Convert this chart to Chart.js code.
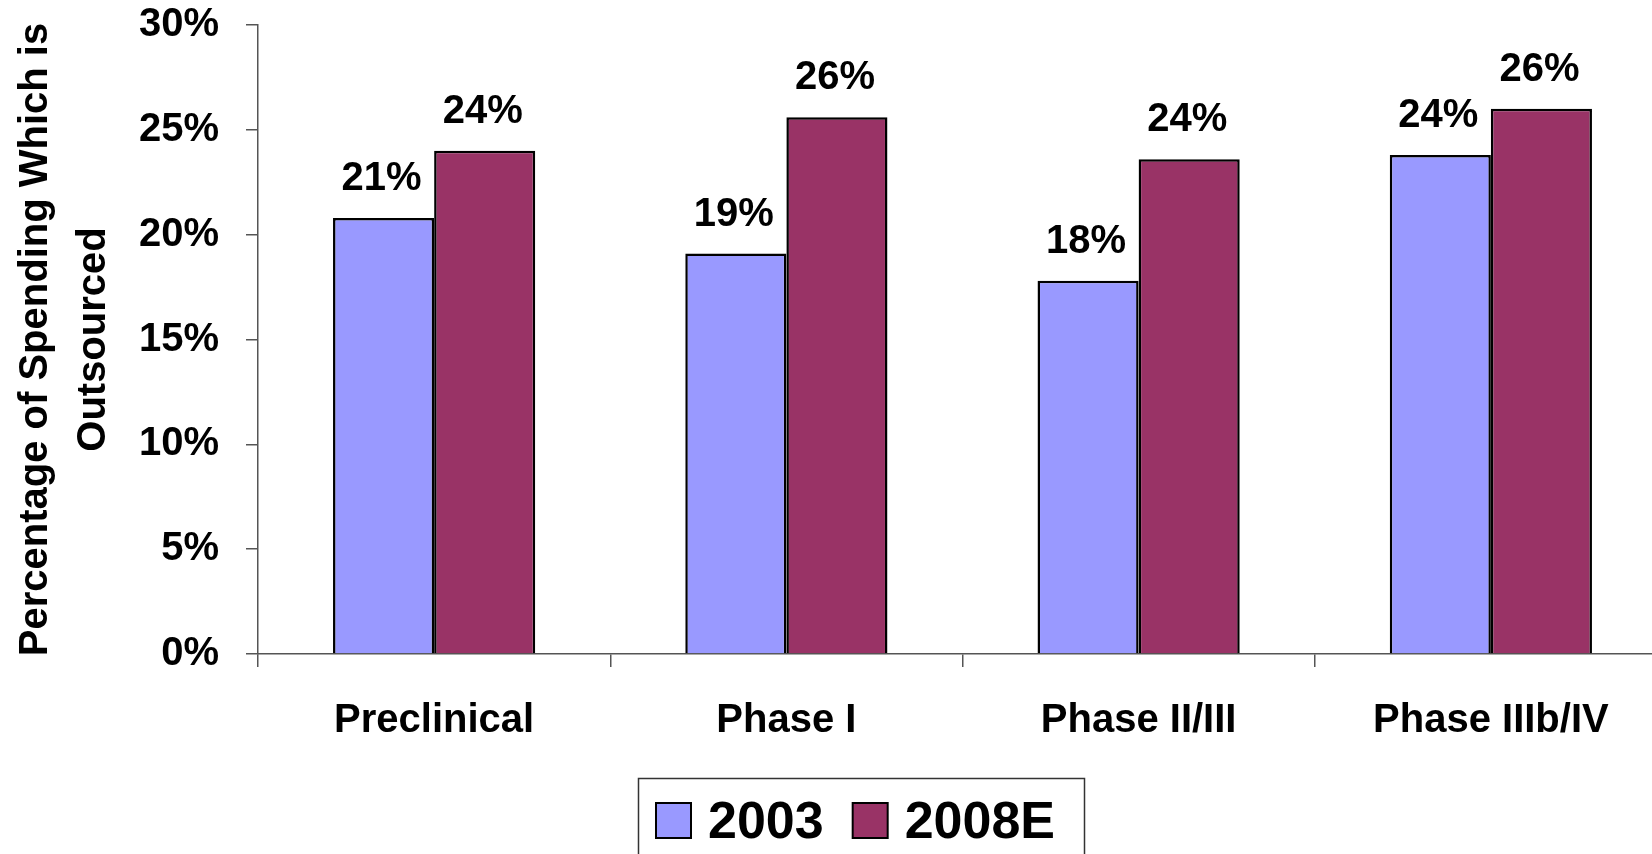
<!DOCTYPE html>
<html>
<head>
<meta charset="utf-8">
<script src="https://cdn.jsdelivr.net/npm/chart.js@4.4.0/dist/chart.umd.min.js"></script>
<style>
  html, body { margin: 0; padding: 0; background: #fff; overflow: hidden; width: 1652px; height: 854px; }
  canvas { display: block; }
</style>
</head>
<body>
<canvas id="chart" width="1680" height="854"></canvas>
<script>
// Share of R&D spending outsourced, by development phase
const categories = ['Preclinical', 'Phase I', 'Phase II/III', 'Phase IIIb/IV'];
const seriesNames = ['2003', '2008E'];
const values2003 = [20.8, 19.1, 17.8, 23.8];
const values2008E = [24.0, 25.6, 23.6, 26.0];
const yTickStep = 5;
const yMin = 0;
const yMax = 30;
const yTitleLines = ['Percentage of Spending Which is', 'Outsourced'];
const seriesColors = ['#9999FF', '#993366'];

const FONT = '"Liberation Sans", Arial, sans-serif';

// Percentage labels above each bar, rounded from the bar's own value
const barLabels = {
  id: 'barLabels',
  afterDatasetsDraw(chart) {
    const ctx = chart.ctx;
    ctx.save();
    ctx.font = 'bold 40px ' + FONT;
    ctx.fillStyle = '#000';
    ctx.textAlign = 'center';
    ctx.textBaseline = 'alphabetic';
    chart.data.datasets.forEach((ds, i) => {
      chart.getDatasetMeta(i).data.forEach((bar, j) => {
        ctx.fillText(Math.round(ds.data[j]) + '%', bar.x - 2, bar.y - 28);
      });
    });
    ctx.restore();
  }
};

// Boxed legend below the plot
const boxedLegend = {
  id: 'boxedLegend',
  afterDraw(chart) {
    const ctx = chart.ctx;
    ctx.save();
    ctx.strokeStyle = '#333';
    ctx.lineWidth = 1.5;
    ctx.strokeRect(638.5, 778.5, 446, 120);
    const size = 35;
    const top = 803;
    let x = 656;
    ctx.font = 'bold 52px ' + FONT;
    ctx.textBaseline = 'alphabetic';
    ctx.textAlign = 'left';
    chart.data.datasets.forEach(ds => {
      ctx.fillStyle = ds.backgroundColor;
      ctx.fillRect(x, top, size, size);
      ctx.strokeStyle = '#000';
      ctx.lineWidth = 2;
      ctx.strokeRect(x, top, size, size);
      ctx.fillStyle = '#000';
      ctx.fillText(ds.label, x + size + 17, top + size);
      x += size + 17 + ctx.measureText(ds.label).width + 29;
    });
    ctx.restore();
  }
};

new Chart(document.getElementById('chart'), {
  type: 'bar',
  data: {
    labels: categories,
    datasets: [
      { label: seriesNames[0], data: values2003, backgroundColor: seriesColors[0] },
      { label: seriesNames[1], data: values2008E, backgroundColor: seriesColors[1] }
    ]
  },
  options: {
    responsive: false,
    animation: false,
    devicePixelRatio: 1,
    layout: { padding: { top: 25, right: 13, left: 0, bottom: 0 } },
    datasets: {
      bar: {
        borderColor: '#000',
        borderWidth: 2.5,
        categoryPercentage: 0.574,
        barPercentage: 1.0
      }
    },
    plugins: {
      legend: { display: false },
      title: { display: false },
      tooltip: { enabled: false }
    },
    scales: {
      x: {
        grid: {
          drawOnChartArea: false,
          drawTicks: true,
          tickLength: 13,
          color: '#555',
          lineWidth: 1.5,
          offset: true
        },
        border: { color: '#555', width: 1.5 },
        ticks: {
          color: '#000',
          padding: 30,
          font: { family: FONT, size: 40, weight: 'bold' }
        },
        afterFit(scale) { scale.height = 200; }
      },
      y: {
        min: yMin,
        max: yMax,
        ticks: {
          stepSize: yTickStep,
          color: '#000',
          padding: 27,
          font: { family: FONT, size: 40, weight: 'bold' },
          callback: v => v + '%'
        },
        grid: {
          drawOnChartArea: false,
          drawTicks: true,
          tickLength: 12,
          color: '#555',
          lineWidth: 1.5
        },
        border: { color: '#555', width: 1.5 },
        title: {
          display: true,
          text: yTitleLines,
          color: '#000',
          font: { family: FONT, size: 40, weight: 'bold', lineHeight: 1.45 },
          padding: { top: 7, bottom: 0 }
        },
        afterFit(scale) {
          scale.width = 258;
          scale.paddingTop = 0;
          scale.paddingBottom = 0;
        }
      }
    }
  },
  plugins: [barLabels, boxedLegend]
});
</script>
</body>
</html>
